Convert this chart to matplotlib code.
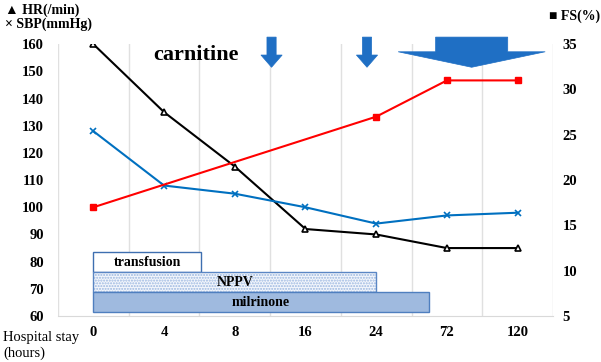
import matplotlib
matplotlib.use("Agg")
import matplotlib.pyplot as plt
from matplotlib.patches import Polygon

plt.rcParams["font.family"] = ["Liberation Serif", "DejaVu Sans"]

# données
heures = ["0", "4", "8", "16", "24", "72", "120"]
hr = [160, 135, 115, 92, 90, 85, 85]
sbp = [128, 108, 105, 100, 94, 97, 98]
fs_idx = [0, 4, 5, 6]
fs = [17, 27, 31, 31]

# traitements : (nom, debut, fin, bas, haut) en index de catégorie / mmHg
traitements = [
    ("transfusion", 0.0, 1.52, 76.2, 83.5),
    ("NPPV", 0.0, 4.0, 68.8, 76.2),
    ("milrinone", 0.0, 4.74, 61.5, 68.8),
]

BLEU_FLECHE = "#1f6fc4"

fig = plt.figure(figsize=(6.01, 3.62), dpi=100)
ax = fig.add_axes([0.0965, 0.127, 0.8236, 0.751])
ax2 = ax.twinx()

x = list(range(len(heures)))
ax.plot(x, hr, "-", color="black", lw=1.5, marker="^", ms=4,
        mfc="white", mec="black", mew=1.2, zorder=4)
ax.plot(x, sbp, "-", color="#0070c0", lw=1.5, marker="x", ms=4,
        mec="#0070c0", mew=1.2, zorder=4)
ax2.plot(fs_idx, fs, "-", color="red", lw=1.5, marker="s", ms=5,
         mfc="red", mec="red", zorder=4)

# barres de traitement
nom, d, f, b, h = traitements[0]
ax.bar(d, h - b, width=f - d, bottom=b, align="edge", facecolor="white",
       edgecolor="#3e6fb0", lw=1, zorder=2)
nom, d, f, b, h = traitements[1]
ax.bar(d, h - b, width=f - d, bottom=b, align="edge", facecolor="#f4f7fc",
       edgecolor="#9bb7e0", hatch="......", lw=0, zorder=2)
ax.bar(d, h - b, width=f - d, bottom=b, align="edge", facecolor="none",
       edgecolor="#5a86c4", lw=1, zorder=2)
nom, d, f, b, h = traitements[2]
ax.bar(d, h - b, width=f - d, bottom=b, align="edge", facecolor="#9fbadf",
       edgecolor="#4f7fbf", lw=1, zorder=2)
for nom, d, f, b, h in traitements:
    ax.text((d + f) / 2, (b + h) / 2, nom, ha="center", va="center",
            fontsize=10, fontweight="bold", zorder=3)

# flèches carnitine
def fleche(xc, demi_tige, demi_tete, haut, base, pointe):
    pts = [(xc - demi_tige, haut), (xc + demi_tige, haut), (xc + demi_tige, base),
           (xc + demi_tete, base), (xc, pointe), (xc - demi_tete, base),
           (xc - demi_tige, base)]
    ax.add_patch(Polygon(pts, closed=True, facecolor=BLEU_FLECHE,
                         edgecolor=BLEU_FLECHE, lw=0.5, clip_on=False, zorder=5))

fleche(2.52, 0.065, 0.15, 162.6, 156.0, 151.5)
fleche(3.87, 0.065, 0.15, 162.6, 156.0, 151.5)
fleche(5.35, 0.51, 1.04, 162.6, 157.2, 151.5)

ax.text(0.84, 156.0, "carnitine", fontsize=16, fontweight="bold",
        ha="left", va="center")

ax.set_xlim(-0.5, 6.5)
ax.set_ylim(60, 160)
ax2.set_ylim(5, 35)
ax.set_yticks(range(60, 161, 10))
ax2.set_yticks(range(5, 36, 5))
ax.set_xticks(x)
ax.set_xticklabels(heures)
ax.set_xticks([i + 0.5 for i in range(-1, 7)], minor=True)
ax.grid(True, which="minor", axis="x", color="#e0e0e0", lw=1)
ax.grid(False, which="major")
ax.tick_params(which="both", length=0)
ax.tick_params(axis="x", pad=7)
ax.tick_params(axis="y", pad=10)
ax2.tick_params(length=0, pad=7)
for a in (ax, ax2):
    for lab in a.get_xticklabels() + a.get_yticklabels():
        lab.set_fontweight("bold")
        lab.set_fontsize(10.5)
for s in ["top", "left", "right"]:
    ax.spines[s].set_visible(False)
    ax2.spines[s].set_visible(False)
ax.spines["bottom"].set_color("#d9d9d9")
ax2.spines["bottom"].set_visible(False)

fig.text(0.008, 0.972, "▲ HR(/min)", fontsize=10, fontweight="bold", va="center")
fig.text(0.008, 0.932, "× SBP(mmHg)", fontsize=10, fontweight="bold", va="center")
fig.text(0.913, 0.955, "■ FS(%)", fontsize=10, fontweight="bold", va="center")
fig.text(0.005, 0.046, "Hospital stay\n(hours)", fontsize=10.5, va="center",
         linespacing=1.25)

fig.savefig("out.png", dpi=100)
